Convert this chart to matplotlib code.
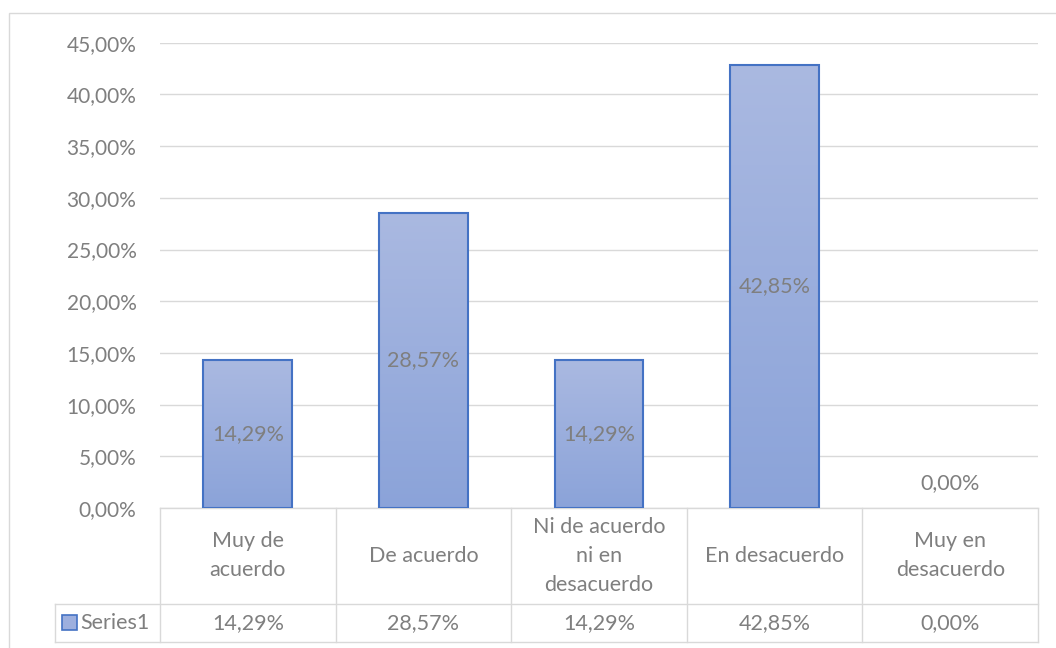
import matplotlib
matplotlib.use("Agg")
import matplotlib.pyplot as plt
import numpy as np
from matplotlib.patches import Rectangle
from matplotlib.colors import LinearSegmentedColormap
from matplotlib.transforms import blended_transform_factory

categories = ["Muy de\nacuerdo", "De acuerdo", "Ni de acuerdo\nni en\ndesacuerdo",
              "En desacuerdo", "Muy en\ndesacuerdo"]
values = [14.29, 28.57, 14.29, 42.85, 0.00]
series_name = "Series1"
y_ticks = [0, 5, 10, 15, 20, 25, 30, 35, 40, 45]


def pct(v):
    return f"{v:.2f}".replace(".", ",") + "%"


plt.rcParams['font.family'] = ['Lato', 'DejaVu Sans']
TEXT = "#7F7F7F"
GRID = "#D9D9D9"
EDGE = "#4472C4"
TOP_C = "#AAB9E1"
BOT_C = "#8BA3D9"
FS = 15.5

W, H = 1056, 648
fig = plt.figure(figsize=(W / 100, H / 100), dpi=100)

# plot area in pixels
px_l, px_r, px_t, px_b = 160, 1038, 42.7, 508
ax = fig.add_axes([px_l / W, 1 - px_b / H, (px_r - px_l) / W, (px_b - px_t) / H])

n = len(categories)
x = np.arange(n)
ax.set_xlim(-0.5, n - 0.5)
ax.set_ylim(0, 45)
ax.set_yticks(y_ticks)
ax.set_yticklabels([pct(t) for t in y_ticks], color=TEXT, fontsize=15)
ax.tick_params(axis="y", length=0, pad=17)
ax.set_xticks([])
for s in ax.spines.values():
    s.set_visible(False)
ax.yaxis.grid(True, color=GRID, linewidth=1.0)
ax.set_axisbelow(True)

cmap = LinearSegmentedColormap.from_list("barfill", [BOT_C, TOP_C])
grad = np.linspace(0, 1, 256).reshape(-1, 1)
bar_w = 0.505
bars = ax.bar(x, values, width=bar_w, color="none", edgecolor=EDGE, linewidth=1.5, zorder=3)
for b, v in zip(bars, values):
    if v <= 0:
        b.set_edgecolor("none")
        continue
    x0 = b.get_x()
    im = ax.imshow(grad, cmap=cmap, origin="lower", aspect="auto",
                   extent=[x0, x0 + bar_w, 0, v], zorder=2)
    im.set_clip_path(b)
ax.set_xlim(-0.5, n - 0.5)
ax.set_ylim(0, 45)

# value labels
for xi, v in zip(x, values):
    if v > 0:
        ax.text(xi, v / 2, pct(v), ha="center", va="center", color=TEXT, fontsize=FS, zorder=4)
    else:
        ax.annotate(pct(v), (xi, 0), xytext=(0, 25), textcoords="offset pixels",
                    ha="center", va="center", color=TEXT, fontsize=FS)

# data table below the plot area (axes coordinates for y)
ah = px_b - px_t
aw = px_r - px_l
def ya(py):
    return (px_b - py) / ah
def xa(pxx):
    return (pxx - px_l) / aw

y_top, y_mid, y_bot = ya(508), ya(603.5), ya(641.5)
x_leg = xa(55)
lk = dict(color=GRID, linewidth=1.0, transform=ax.transAxes, clip_on=False)
ax.plot([0, 1], [y_top, y_top], **lk)
ax.plot([x_leg, 1], [y_mid, y_mid], **lk)
ax.plot([x_leg, 1], [y_bot, y_bot], **lk)
ax.plot([x_leg, x_leg], [y_mid, y_bot], **lk)
for k in range(n + 1):
    ax.plot([k / n, k / n], [y_top, y_bot], **lk)

tb = blended_transform_factory(ax.transData, ax.transAxes)
for xi, c, v in zip(x, categories, values):
    ax.text(xi, (y_top + y_mid) / 2, c, ha="center", va="center", color=TEXT,
            fontsize=FS, transform=tb, linespacing=1.55)
    ax.text(xi, (y_mid + y_bot) / 2 - 0.002, pct(v), ha="center", va="center", color=TEXT,
            fontsize=FS, transform=tb)

# legend key in the table row
kx0, ky0, ks = 62, 615, 15
key = Rectangle((kx0 / W, 1 - (ky0 + ks) / H), ks / W, ks / H, transform=fig.transFigure,
                facecolor="#9DAFDE", edgecolor=EDGE, linewidth=1.2)
fig.patches.append(key)
ax.text(xa(80), (y_mid + y_bot) / 2 - 0.002, series_name, ha="left", va="center",
        color=TEXT, fontsize=FS, transform=ax.transAxes)

# chart frame
frame = Rectangle((9 / W, -0.01), 1.1, 1 - 13 / H + 0.01, transform=fig.transFigure,
                  facecolor="none", edgecolor=GRID, linewidth=1.0)
fig.patches.append(frame)

fig.savefig("out.png", dpi=100)
